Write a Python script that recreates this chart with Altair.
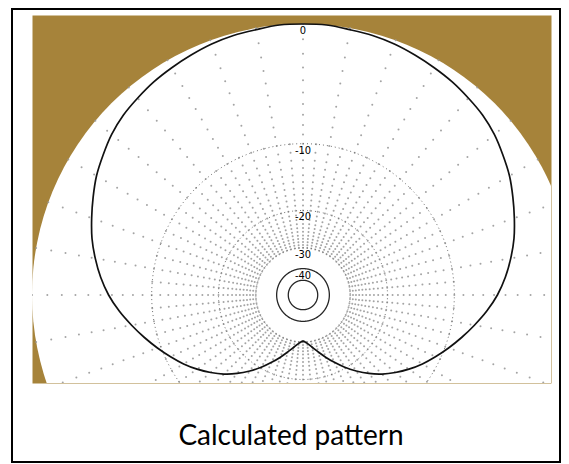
import numpy as np
import pandas as pd
import altair as alt

# ---------------- data ----------------
# azimuth measured from the top (0 deg), clockwise; pattern is mirror-symmetric
angles_deg = [0, 5, 10, 15, 20, 25, 30, 35, 40, 45, 50, 55, 60, 65, 70, 75, 80, 85, 90,
              95, 100, 105, 110, 115, 120, 125, 130, 135, 140, 145, 150, 155, 160, 165,
              170, 175, 180]
pattern_db = [0.0, 0.0, -0.1, -0.15, -0.25, -0.4, -0.55, -0.7, -0.9, -1.1, -1.4, -1.8,
              -2.2, -2.7, -3.2, -3.7, -4.3, -4.95, -5.7, -6.6, -7.6, -8.6, -9.6, -10.6,
              -11.6, -12.7, -13.9, -15.2, -16.7, -18.4, -20.2, -22.2, -24.2, -26.2,
              -28.0, -29.5, -30.5]

dotted_ring_db = [-10, -20, -30]
solid_ring_db = [-40, -50]
label_db = [0, -10, -20, -30, -40]
label_text = ["0", "-10", "-20", "-30", "-40"]
major_spoke_step = 10      # degrees, spokes out to the 0 dB ring
minor_spoke_step = 5       # degrees, spokes out to the -10 dB ring
spoke_dot_db = list(range(-30, 1))   # one dot per dB along a spoke
title_text = "Calculated pattern"

# ---------------- ARRL log radial scale ----------------
R = 271.0                      # px radius of the 0 dB ring


def radius(db):
    return R * 0.89 ** (-np.asarray(db, dtype=float) / 2.0)


def to_xy(theta_deg, db):
    r = radius(db)
    t = np.radians(np.asarray(theta_deg, dtype=float))
    return r * np.sin(t), r * np.cos(t)


# pattern: from the bottom null, round the left side, over the top, down the right side
sig = [-a for a in angles_deg[::-1]] + angles_deg[1:]
sdb = pattern_db[::-1] + pattern_db[1:]
px, py = to_xy(sig, sdb)
pattern_df = pd.DataFrame({"x": px, "y": py, "i": range(len(sig))})

# grid rings
ring_rows = []
for kind, dbs in (("dot", dotted_ring_db), ("solid", solid_ring_db)):
    for db in dbs:
        th = np.arange(0, 361, 1.0)
        rx, ry = to_xy(th, [db] * len(th))
        for k in range(len(th)):
            ring_rows.append({"kind": kind, "ring": str(db), "i": k, "x": rx[k], "y": ry[k]})
rings_df = pd.DataFrame(ring_rows)

# spokes as dotted rays
spoke_rows = []
for a in range(0, 360, minor_spoke_step):
    dbs = spoke_dot_db if a % major_spoke_step == 0 else [d for d in spoke_dot_db if d <= -10]
    sx, sy = to_xy([a] * len(dbs), dbs)
    for k in range(len(dbs)):
        spoke_rows.append({"x": sx[k], "y": sy[k]})
spokes_df = pd.DataFrame(spoke_rows)

lx, ly = to_xy([0] * len(label_db), label_db)
labels_df = pd.DataFrame({"x": lx, "y": ly, "t": label_text})

center_df = pd.DataFrame({"x": [0.0], "y": [0.0]})
frame_df = pd.DataFrame({"k": [0]})
title_df = pd.DataFrame({"t": [title_text]})

# ---------------- chart ----------------
W, H = 519, 368
xs = alt.Scale(domain=[-271, 248], nice=False, zero=False)
ys = alt.Scale(domain=[-88, 280], nice=False, zero=False)
X = lambda: alt.X("x:Q", scale=xs, axis=None)
Y = lambda: alt.Y("y:Q", scale=ys, axis=None)

disc = alt.Chart(center_df).mark_arc(
    radius=R, theta=0, theta2=2 * np.pi, fill="white", clip=True, strokeWidth=0
).encode(x=X(), y=Y())

spokes = alt.Chart(spokes_df).mark_circle(size=4, color="#9a9a9a", opacity=0.9, clip=True).encode(
    x=X(), y=Y())

dotted = alt.Chart(rings_df[rings_df.kind == "dot"]).mark_line(
    color="#6f6f6f", strokeWidth=1, strokeDash=[1, 3], clip=True
).encode(x=X(), y=Y(), detail="ring:N", order="i:Q")

solid = alt.Chart(rings_df[rings_df.kind == "solid"]).mark_line(
    color="#262626", strokeWidth=1.3, clip=True
).encode(x=X(), y=Y(), detail="ring:N", order="i:Q")

pattern = alt.Chart(pattern_df).mark_line(
    color="#111111", strokeWidth=1.7, interpolate="catmull-rom", clip=True
).encode(x=X(), y=Y(), order="i:Q")

labels = alt.Chart(labels_df).mark_text(
    baseline="top", align="center", dy=1, fontSize=11, color="black",
    font="Liberation Sans Narrow, DejaVu Sans Condensed, sans-serif"
).encode(x=X(), y=Y(), text="t:N")

# slide frame around the picture
frame = alt.Chart(frame_df).mark_rect(
    fillOpacity=0, stroke="black", strokeWidth=2, clip=False
).encode(x=alt.value(-20), x2=alt.value(528), y=alt.value(-6), y2=alt.value(447))

title = alt.Chart(title_df).mark_text(
    align="center", baseline="alphabetic", font="Lato", fontSize=28, color="black", clip=False
).encode(x=alt.value(259), y=alt.value(430), text="t:N")

chart = alt.layer(disc, spokes, dotted, solid, pattern, labels, frame, title).properties(
    width=W, height=H,
    autosize=alt.AutoSizeParams(type="none"),
    padding={"left": 24, "top": 7, "right": 10, "bottom": 81},
).configure_view(fill="#A6833A", strokeOpacity=0)

chart.save("out.html", embed_options={"renderer": "svg", "actions": False})
